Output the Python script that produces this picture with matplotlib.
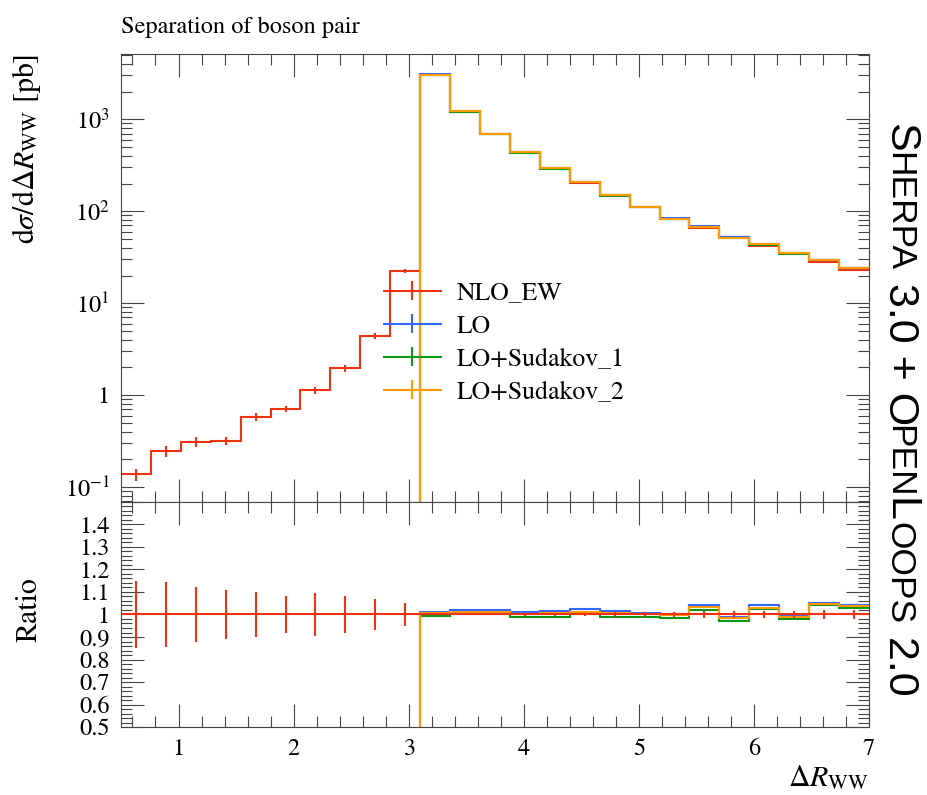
import numpy as np
import matplotlib.pyplot as plt
from matplotlib.ticker import (FixedLocator, MultipleLocator, LogLocator,
                               FuncFormatter, NullFormatter)
from matplotlib.container import ErrorbarContainer
from matplotlib.legend_handler import HandlerErrorbar

plt.rcParams['font.family'] = 'STIXGeneral'
plt.rcParams['mathtext.fontset'] = 'stix'

# bin edges in Delta R_WW
edges = [0.5, 0.76, 1.02, 1.28, 1.54, 1.8, 2.06, 2.32, 2.58, 2.84, 3.1,
         3.36, 3.62, 3.88, 4.14, 4.4, 4.66, 4.92, 5.18, 5.44, 5.7,
         5.96, 6.22, 6.48, 6.74, 7.0]

# NLO_EW cross section per bin [pb] and its relative uncertainty
nlo_ew = [0.138, 0.248, 0.31, 0.32, 0.58, 0.71, 1.13, 1.96, 4.4, 22.6,
          3050, 1210, 687, 438, 293, 205, 149, 111, 83.4, 65.8,
          52.6, 42.4, 35.2, 28.4, 23.2]
nlo_relerr = [0.147, 0.143, 0.124, 0.109, 0.099, 0.083, 0.096, 0.080, 0.070, 0.052,
              0.002, 0.003, 0.004, 0.005, 0.006, 0.008, 0.010, 0.012, 0.012, 0.014,
              0.015, 0.016, 0.016, 0.018, 0.018]

# other predictions relative to NLO_EW (empty below 3.1)
lo_ratio = [0] * 10 + [1.010, 1.019, 1.019, 1.010, 1.015, 1.025, 1.017, 1.007,
                       1.004, 1.040, 0.991, 1.040, 0.994, 1.052, 1.042]
sud1_ratio = [0] * 10 + [0.994, 1.000, 1.002, 0.991, 0.991, 1.003, 0.991, 0.990,
                         0.986, 1.021, 0.973, 1.024, 0.982, 1.043, 1.030]
sud2_ratio = [0] * 10 + [1.006, 1.009, 1.009, 1.004, 1.006, 1.013, 1.008, 1.002,
                         0.997, 1.033, 0.984, 1.031, 0.988, 1.048, 1.037]

labels = ['NLO_EW', 'LO', 'LO+Sudakov_1', 'LO+Sudakov_2']
colors = ['#EE3311', '#3366FF', '#109618', '#FF9900']

edges = np.array(edges)
centers = 0.5 * (edges[1:] + edges[:-1])
nlo = np.array(nlo_ew)
nlo_err = nlo * np.array(nlo_relerr)
ratios = [np.ones_like(nlo), np.array(lo_ratio), np.array(sud1_ratio), np.array(sud2_ratio)]

fig = plt.figure(figsize=(9.27, 7.95), dpi=100)
ax = fig.add_axes([0.1305, 0.3686, 0.8069, 0.5635])
rax = fig.add_axes([0.1305, 0.0855, 0.8069, 0.2831], sharex=ax)

lw = 1.5
# main panel
for i, (r, c) in enumerate(zip(ratios, colors)):
    ax.stairs(nlo * r, edges, baseline=None, color=c, lw=lw, zorder=2 + i)
ax.errorbar(centers, nlo, yerr=nlo_err, fmt='none', ecolor=colors[0],
            elinewidth=lw, capsize=0, zorder=2)
ax.set_yscale('log')
ax.set_ylim(0.069, 5130)
ax.set_xlim(0.5, 7.0)

# ratio panel, reference drawn on top
for i, (r, c) in enumerate(zip(ratios[1:], colors[1:])):
    rax.stairs(r, edges, baseline=None, color=c, lw=lw, zorder=2 + i)
rax.stairs(ratios[0], edges, baseline=None, color=colors[0], lw=lw, zorder=6)
rax.errorbar(centers, ratios[0], yerr=np.array(nlo_relerr), fmt='none',
             ecolor=colors[0], elinewidth=lw, capsize=0, zorder=6)
rax.set_ylim(0.5, 1.5)

# ticks
tick_col = '#444444'
for a in (ax, rax):
    a.tick_params(which='both', direction='in', top=True, right=True,
                  color=tick_col, width=0.8, labelsize=17.5, pad=8)
    a.tick_params(which='major', length=16.5)
    a.tick_params(which='minor', length=8)
    a.xaxis.set_minor_locator(MultipleLocator(0.2))
    for s in a.spines.values():
        s.set_color(tick_col)
        s.set_linewidth(0.8)

ax.yaxis.set_major_locator(LogLocator(base=10, numticks=20))
ax.yaxis.set_minor_locator(LogLocator(base=10, subs=np.arange(2, 10), numticks=20))
ax.yaxis.set_minor_formatter(NullFormatter())


def log_label(v, pos):
    e = int(round(np.log10(v)))
    return '1' if e == 0 else r'$10^{%d}$' % e


ax.yaxis.set_major_formatter(FuncFormatter(log_label))
ax.tick_params(axis='x', labelbottom=False)

rax.xaxis.set_major_locator(MultipleLocator(1))
rax.yaxis.set_major_locator(FixedLocator(np.round(np.arange(0.5, 1.51, 0.1), 1)))
rax.yaxis.set_minor_locator(MultipleLocator(0.02))
rax.yaxis.set_major_formatter(FuncFormatter(lambda v, p: '' if v > 1.45 else f'{v:g}'))

# labels
ax.set_title('Separation of boson pair', loc='left', fontsize=17.5, pad=15)
ax.set_ylabel(r'$\mathrm{d}\sigma/\mathrm{d}\Delta R_\mathrm{WW}$ [pb]', fontsize=21.5, loc='top')
ax.yaxis.set_label_coords(-0.104, 1.0)
rax.set_ylabel('Ratio', fontsize=21.5)
rax.yaxis.set_label_coords(-0.104, 0.52)
rax.set_xlabel(r'$\Delta R_\mathrm{WW}$', fontsize=21.5, loc='right')
rax.xaxis.set_label_coords(1.0, -0.165)

# legend with error-bar style keys
proxies = [ax.errorbar([np.nan], [np.nan], xerr=[1], yerr=[1], fmt='none',
                       ecolor=c, elinewidth=lw) for c in colors]
ax.legend(proxies, labels, loc='upper left', bbox_to_anchor=(0.350, 0.492),
          frameon=False, fontsize=18.5, borderpad=0, borderaxespad=0,
          handlelength=2.3, handletextpad=0.58, labelspacing=0.35,
          handler_map={ErrorbarContainer: HandlerErrorbar(xerr_size=1.15, yerr_size=0.38)})

# generator tag in small caps, running down the right edge
fig.canvas.draw()
renderer = fig.canvas.get_renderer()
big, small = 31, 25.5
pieces = [('S', big), ('HERPA', small), (' 3.0 + O', big), ('PEN', small),
          ('L', big), ('OOPS', small), (' 2.0', big)]
x0, y0 = 889 / 927, 1 - 123 / 795
for s, fs in pieces:
    t = fig.text(x0, y0, s, rotation=-90, rotation_mode='anchor', ha='left',
                 va='baseline', fontsize=fs, family='Liberation Sans')
    bb = t.get_window_extent(renderer)
    y0 -= bb.height / fig.bbox.height

fig.savefig('out.png', dpi=100)
